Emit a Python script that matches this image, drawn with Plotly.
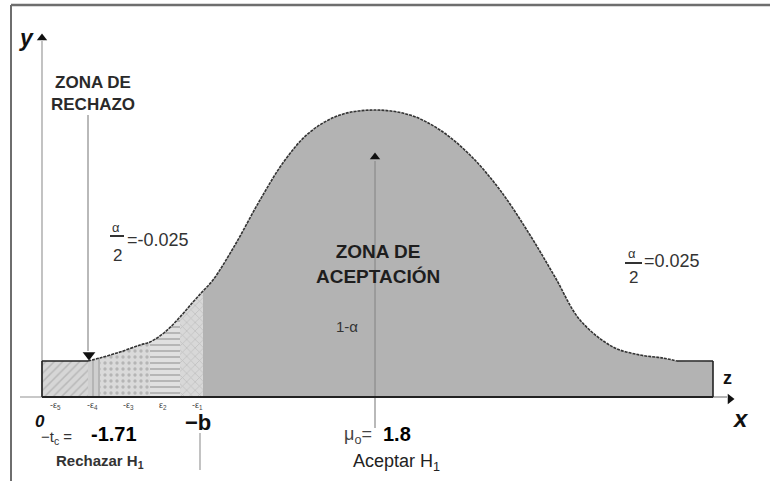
import plotly.graph_objects as go

# Outline of the bell curve: x position and height above the baseline
curve_x = [42, 88, 100, 120, 140, 150, 165, 180, 193, 203, 213, 235, 260, 285, 310,
           340, 375, 410, 440, 470, 500, 530, 555, 580, 613, 640, 663, 677, 713]
curve_y = [36, 36, 39, 45, 52, 55, 65, 80, 95, 106, 117, 152, 197, 237, 265,
           282, 287, 282, 267, 242, 207, 162, 120, 77, 50, 42, 39, 36, 36]

# Rejection-zone bands (x ranges) and their fill patterns
band_edges = [(42, 88), (88, 100), (100, 150), (150, 180), (180, 203)]
band_shapes = ["/", "|", ".", "-", "x"]
band_bg = ["#d6d6d6", "#cfcfcf", "#dadada", "#e0e0e0", "#d8d8d8"]
band_fg = ["#9a9a9a", "#8a8a8a", "#8f8f8f", "#6f6f6f", "#a8a8a8"]

# Labels under the baseline
tick_x = [55, 92, 128, 163, 197]
tick_labels = ["-ε<sub>5</sub>", "-ε<sub>4</sub>", "-ε<sub>3</sub>", "ε<sub>2</sub>", "-ε<sub>1</sub>"]
t_critical = "-1.71"
mu_zero = "1.8"
alpha_left = "=-0.025"
alpha_right = "=0.025"

FONT = "Liberation Sans, Arial, sans-serif"
ACCEPT_GRAY = "#b3b3b3"

fig = go.Figure()

# Acceptance zone: solid gray under the whole curve
fig.add_trace(go.Scatter(
    x=curve_x, y=curve_y, mode="lines", line=dict(width=0, shape="spline"),
    fill="tozeroy", fillcolor=ACCEPT_GRAY, hoverinfo="skip", showlegend=False))

# Textured bands of the rejection zone
for (a, b), shp, bg, fg in zip(band_edges, band_shapes, band_bg, band_fg):
    xs = [x for x in curve_x if a <= x <= b]
    ys = [y for x, y in zip(curve_x, curve_y) if a <= x <= b]
    fig.add_trace(go.Scatter(
        x=xs, y=ys, mode="lines", line=dict(width=0, shape="spline"),
        fill="tozeroy", fillcolor=bg,
        fillpattern=dict(shape=shp, bgcolor=bg, fgcolor=fg, size=6, solidity=0.25),
        hoverinfo="skip", showlegend=False))

# Curve outline (dashed dark stroke) between the two flat ends
inner = [(x, y) for x, y in zip(curve_x, curve_y) if 88 <= x <= 677]
fig.add_trace(go.Scatter(
    x=[p[0] for p in inner], y=[p[1] for p in inner], mode="lines",
    line=dict(color="#333333", width=1.6, shape="spline", dash="3px,1px"),
    hoverinfo="skip", showlegend=False))

# Arrowheads
fig.add_trace(go.Scatter(
    x=[42, 375], y=[359, 240], mode="markers",
    marker=dict(symbol="triangle-up", size=9, color="#111111"),
    hoverinfo="skip", showlegend=False))
fig.add_trace(go.Scatter(
    x=[89], y=[42], mode="markers",
    marker=dict(symbol="triangle-down", size=11, color="#111111"),
    hoverinfo="skip", showlegend=False))
fig.add_trace(go.Scatter(
    x=[730], y=[-2], mode="markers",
    marker=dict(symbol="triangle-right", size=9, color="#111111"),
    hoverinfo="skip", showlegend=False))

shapes = []


def seg(x0, y0, x1, y1, color, width=1):
    shapes.append(dict(type="line", x0=x0, y0=y0, x1=x1, y1=y1,
                       line=dict(color=color, width=width), layer="above"))


# frame
seg(11, 392, 770, 392, "#6e6e6e", 2.5)
seg(11, 392, 11, -90, "#6e6e6e", 2)
# y axis and pointers
seg(42, 0, 42, 356, "#9a9a9a", 1.2)
seg(88, 282, 88, 46, "#8a8a8a", 1.2)
seg(375, 236, 375, -31, "#8a8a8a", 1.2)
seg(200, -36, 200, -73, "#9a9a9a", 1.2)
# baseline
seg(20, 0, 42, 0, "#c8c8c8", 2)
seg(42, 0, 713, 0, "#222222", 2)
seg(713, 0, 727, 0, "#9a9a9a", 1.5)
# flat ends of the curve
seg(42, 0, 42, 36, "#222222", 1.6)
seg(42, 36, 88, 36, "#222222", 1.6)
seg(677, 36, 713, 36, "#222222", 1.6)
seg(713, 36, 713, 0, "#222222", 1.6)
# fraction bars
seg(110, 161, 124, 161, "#333333", 2)
seg(625, 134, 642, 134, "#333333", 2)

ann = []


def txt(x, y, s, size, color="#222222", bold=False, italic=False, xanchor="center", family=FONT):
    if bold:
        s = "<b>" + s + "</b>"
    if italic:
        s = "<i>" + s + "</i>"
    ann.append(dict(x=x, y=y, text=s, showarrow=False, xanchor=xanchor, yanchor="middle",
                    font=dict(size=size, color=color, family=family)))


txt(26, 359, "y", 23, "#111111", bold=True, italic=True)
txt(93, 304, "ZONA DE<br>RECHAZO", 17, "#2a2a2a", bold=True)
txt(116, 170, "α", 13, "#333333")
txt(117, 142, "2", 17, "#333333")
txt(125, 157, alpha_left, 18, "#333333", xanchor="left")
txt(378, 133, "ZONA DE<br>ACEPTACIÓN", 19, "#1e1e1e", bold=True)
txt(347, 71, "1-α", 15, "#333333")
txt(632, 144, "α", 13, "#333333")
txt(633, 120, "2", 17, "#333333")
txt(642, 136, alpha_right, 18, "#333333", xanchor="left")
txt(727, 19, "z", 18, "#111111", bold=True)
txt(740, -21, "x", 24, "#111111", bold=True, italic=True)
txt(40, -24, "0", 17, "#111111", bold=True, italic=True)
for tx, tl in zip(tick_x, tick_labels):
    txt(tx, -8, tl, 9, "#444444")
txt(56, -40, "−t<sub>c</sub> =", 15, "#333333")
txt(114, -37, t_critical, 20, "#000000", bold=True)
txt(100, -64, "Rechazar H<sub>1</sub>", 15, "#333333", bold=True)
txt(198, -25, "−b", 22, "#111111", bold=True)
txt(358, -38, "μ<sub>o</sub>=", 18, "#444444")
txt(397, -37, mu_zero, 20, "#000000", bold=True)
txt(396, -65, "Aceptar H<sub>1</sub>", 18, "#222222")

fig.update_layout(
    width=770, height=481, margin=dict(l=0, r=0, t=0, b=0),
    paper_bgcolor="white", plot_bgcolor="white",
    xaxis=dict(range=[0, 770], visible=False, fixedrange=True),
    yaxis=dict(range=[-84, 397], visible=False, fixedrange=True),
    shapes=shapes, annotations=ann, showlegend=False,
)

fig.write_html("out.html")
